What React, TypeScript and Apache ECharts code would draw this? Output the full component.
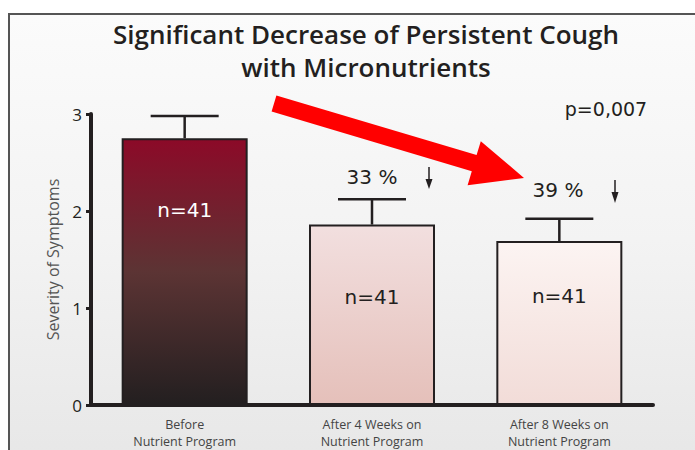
import React, { useEffect, useRef } from "react";
import * as echarts from "echarts";

const categories = ["Before\nNutrient Program", "After 4 Weeks on\nNutrient Program", "After 8 Weeks on\nNutrient Program"];
const severity = [2.75, 1.86, 1.69];
const errorTop = [2.98, 2.12, 1.92];
const nLabels = ["n=41", "n=41", "n=41"];
const yTicks = [0, 1, 2, 3];
const percentLabels = ["33 %", "39 %"];

const INK = "#231f20";

export default function App() {
  const ref = useRef<HTMLDivElement>(null);
  useEffect(() => {
    if (!ref.current) return;
    const chart = echarts.init(ref.current, undefined, { renderer: "svg" });
    const barColors = [
      new echarts.graphic.LinearGradient(0, 0, 0, 1, [
        { offset: 0, color: "#8c0a28" },
        { offset: 0.5, color: "#5c3434" },
        { offset: 1, color: "#231f20" },
      ]),
      new echarts.graphic.LinearGradient(0, 0, 0, 1, [
        { offset: 0, color: "#f2dfdf" },
        { offset: 1, color: "#e5c0ba" },
      ]),
      new echarts.graphic.LinearGradient(0, 0, 0, 1, [
        { offset: 0, color: "#fcf4f2" },
        { offset: 1, color: "#f2dcd8" },
      ]),
    ];
    const labelColors = ["#ffffff", INK, INK];
    const labelDistances = [62, 62, 45];
    const barData = severity.map((v, i) => ({
      value: v,
      itemStyle: { color: barColors[i], borderColor: INK, borderWidth: 2 },
      label: {
        show: true,
        position: "insideTop",
        distance: labelDistances[i],
        formatter: nLabels[i],
        color: labelColors[i],
        fontSize: 20,
        fontFamily: "DejaVu Sans",
      },
    }));
    const errData = severity.map((v, i) => [i, v, errorTop[i]]);

    const arrow = [
      [276.4, 95.4], [476.6, 155.1], [480.8, 141.2], [524, 178],
      [467.6, 185.2], [471.8, 171.3], [271.6, 111.6],
    ];

    chart.setOption({
      animation: false,
      backgroundColor: "transparent",
      grid: { left: 91, right: 42, top: 114, bottom: 43, containLabel: false },
      xAxis: {
        type: "category",
        data: categories,
        axisLine: { lineStyle: { color: INK, width: 4 } },
        axisTick: { alignWithLabel: true, length: 8, lineStyle: { color: INK, width: 3 } },
        axisLabel: {
          margin: 11,
          color: "#444",
          fontSize: 12.5,
          lineHeight: 17,
          fontFamily: "Open Sans",
        },
      },
      yAxis: {
        type: "value",
        min: 0,
        max: 3,
        interval: 1,
        name: "Severity of Symptoms",
        nameLocation: "middle",
        nameRotate: 90,
        nameGap: 30,
        nameTextStyle: { color: "#555", fontSize: 16, fontFamily: "Open Sans" },
        splitLine: { show: false },
        axisLine: { show: true, lineStyle: { color: INK, width: 4 } },
        axisTick: { show: true, length: 5, lineStyle: { color: INK, width: 3 } },
        axisLabel: {
          margin: 9,
          color: INK,
          fontSize: 17,
          fontFamily: "Open Sans",
          formatter: (v: number) => (yTicks.includes(v) ? String(v) : ""),
        },
      },
      series: [
        {
          type: "bar",
          data: barData,
          barWidth: 126,
        },
        {
          type: "custom",
          z: 5,
          data: errData,
          renderItem: (params: any, api: any) => {
            const x = api.value(0);
            const top = api.coord([x, api.value(1)]);
            const err = api.coord([x, api.value(2)]);
            const st = { stroke: INK, lineWidth: 2.5 };
            return {
              type: "group",
              children: [
                { type: "line", shape: { x1: top[0], y1: top[1], x2: err[0], y2: err[1] }, style: st },
                { type: "line", shape: { x1: err[0] - 34, y1: err[1], x2: err[0] + 34, y2: err[1] }, style: st },
              ],
            };
          },
        },
      ],
      graphic: [
        {
          type: "text",
          x: 366,
          y: 50,
          style: {
            text: "Significant Decrease of Persistent Cough\nwith Micronutrients",
            textAlign: "center",
            textVerticalAlign: "middle",
            font: "600 26px 'Open Sans'",
            lineHeight: 33,
            fill: INK,
          },
        },
        {
          type: "text",
          x: 606,
          y: 109,
          style: { text: "p=0,007", textAlign: "center", textVerticalAlign: "middle", font: "19px 'DejaVu Sans'", fill: INK },
        },
        {
          type: "text",
          x: 372,
          y: 177,
          style: { text: percentLabels[0], textAlign: "center", textVerticalAlign: "middle", font: "20px 'DejaVu Sans'", fill: INK },
        },
        {
          type: "text",
          x: 558,
          y: 190,
          style: { text: percentLabels[1], textAlign: "center", textVerticalAlign: "middle", font: "20px 'DejaVu Sans'", fill: INK },
        },
        { type: "line", shape: { x1: 429, y1: 167, x2: 429, y2: 183 }, style: { stroke: INK, lineWidth: 1.5 } },
        { type: "polygon", shape: { points: [[425.5, 179], [432.5, 179], [429, 189]] }, style: { fill: INK } },
        { type: "line", shape: { x1: 615, y1: 180, x2: 615, y2: 196 }, style: { stroke: INK, lineWidth: 1.5 } },
        { type: "polygon", shape: { points: [[611.5, 192], [618.5, 192], [615, 203]] }, style: { fill: INK } },
        { type: "polygon", shape: { points: arrow }, style: { fill: "#ff0000" } },
      ],
    });
    return () => chart.dispose();
  }, []);

  return (
    <div style={{ position: "fixed", left: 0, top: 0, width: 695, height: 450, background: "#ffffff", overflow: "hidden" }}>
      <div
        style={{
          position: "absolute",
          left: 8,
          top: 13,
          width: 700,
          height: 450,
          borderLeft: "2px solid #555",
          borderTop: "2px solid #555",
          background: "linear-gradient(to bottom, #fbfbfb 0%, #f3f3f3 50%, #e7e7e7 100%)",
        }}
      />
      <div ref={ref} style={{ position: "absolute", left: 0, top: 0, width: 695, height: 450 }} />
    </div>
  );
}
